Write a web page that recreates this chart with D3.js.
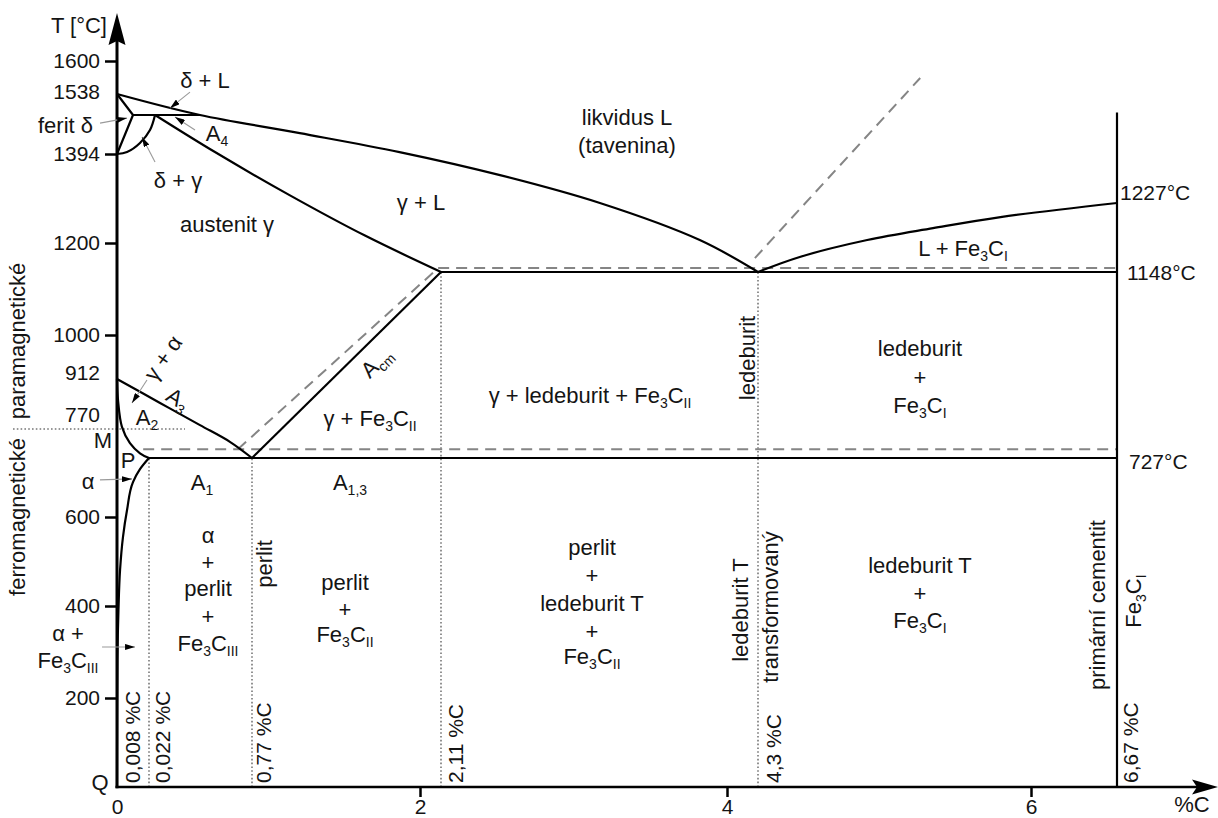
<!DOCTYPE html>
<html><head><meta charset="utf-8">
<script src="https://cdn.jsdelivr.net/npm/d3@7"></script>
<style>
body{margin:0;background:#fff;}
svg text{font-family:"Liberation Sans",Arial,Helvetica,sans-serif;fill:#141414;}
</style></head><body>
<svg id="c" width="1218" height="818"></svg>
<script>
// ---------------- DATA (composition %C, temperature °C) ----------------
const xKnots = [0, 0.022, 0.53, 0.77, 2, 2.11, 4, 4.3, 6, 6.67];
const yKnots = [0, 200, 400, 600, 727, 770, 912, 1000, 1148, 1200, 1227, 1394, 1495, 1538, 1600];

const liquidusABC = [[0,1538],[0.53,1495],[1.12,1448],[1.85,1399],[2.50,1322],[3.16,1227],[3.82,1202],[4.3,1148]];
const liquidusCD  = [[4.3,1148],[4.56,1175],[4.98,1202],[5.39,1210],[5.81,1217.5],[6.67,1227]];
const solidusJE   = [[0.082,1495],[0.599,1399],[1.048,1253],[1.597,1205],[2.11,1148]];
const deltaAHN    = [[0,1538],[0.011,1495],[0,1394]];
const peritecticHB = [[0.011,1495],[0.53,1495]];
const arcNJ       = [[0,1394],[0.0069,1399],[0.0158,1422.5],[0.032,1456],[0.082,1495]];
const a3GS        = [[0,912],[0.132,844],[0.53,781],[0.668,751],[0.77,727]];
const curveGP     = [[0,912],[0.0007,852],[0.0034,776],[0.0089,749],[0.0158,734],[0.022,727]];
const curvePQ     = [[0.022,727],[0.0158,703],[0.011,675],[0.0069,615],[0.0041,555],[0.0021,481],[0.001,391],[0.0003,283],[0.0001,151],[0,0]];
const acmES       = [[2.11,1148],[0.77,727]];
const eutecticECF = [[2.11,1148],[6.67,1148]];
const eutectoidPSK = [[0.022,727],[6.67,727]];
const cementiteLine = [[6.67,0],[6.67,1500]];

const graphiteES        = [[0.705,740],[2.095,1155]];
const graphiteEutectic  = [[2.095,1155],[6.67,1155]];
const graphiteEutectoid = [[0.018,740],[6.67,740]];
const graphiteLiquidus  = [[4.27,1173],[5.31,1568]];

const compositionLines = [[0.022,727],[0.77,727],[2.11,1148],[4.3,1148]];
const curieLine = [[0,770],[0.381,770]];

const yTickValues = [200, 400, 600, 1000, 1200, 1394, 1600];
const yExtraLabels = [1538, 912, 770];
const xTickValues = [0, 2, 4, 6];
const isotherms = [[1227,"1227°C"],[1148,"1148°C"],[727,"727°C"]];
const compLabels = [[0.008,"0,008 %C"],[0.022,"0,022 %C"],[0.77,"0,77 %C"],[2.11,"2,11 %C"],[4.3,"4,3 %C"],[6.67,"6,67 %C"]];
const leaderTargets = [[0.0069,1487],[0.231,1509],[0.281,1490],[0.0172,1438],[0.0103,844],[0.0103,682],[0.0124,311]];

// ---------------- LAYOUT ----------------
const W = 1218, H = 818;
const svg = d3.select("#c");
const x = d3.scaleLinear().domain(xKnots).range([117,149,200,252,420,441,727,758,1031,1117]);
const y = d3.scaleLinear().domain(yKnots).range([787,698,606,517,458,429,379,335,272,243,203,154,115,94,61]);

const yExtraDy = [-2, -6, -14];
const isoOffsets = [[3,-10],[10,1],[12,4]];
const compOffsets = [11,21,19,22,23,21];
const leaderOffsets = [[-27,5],[20,-16],[20,13],[13,25],[15,-23],[-32,1],[-33,0]];

const labels = [
 ["austenit γ",227,224],["γ + L",421,202],["likvidus L",627,117],["(tavenina)",627,145],
 ["L + Fe_{3}C_{I}",963,248],["γ + Fe_{3}C_{II}",370,418],["γ + ledeburit + Fe_{3}C_{II}",590,395],
 ["ledeburit",920,348],["+",920,377],["Fe_{3}C_{I}",920,405],
 ["A_{1}",202,482],["A_{1,3}",350,482],
 ["α",208,535],["+",208,562],["perlit",208,588],["+",208,616],["Fe_{3}C_{III}",208,643],
 ["perlit",345,582],["+",345,609],["Fe_{3}C_{II}",345,634],
 ["perlit",592,547],["+",592,575],["ledeburit T",592,603],["+",592,631],["Fe_{3}C_{II}",592,656],
 ["ledeburit T",920,565],["+",920,593],["Fe_{3}C_{I}",920,620],
 ["α +",68,633],["Fe_{3}C_{III}",68,660],["α",88,481],
 ["M",103,440],["P",128,460],["Q",100,782],["A_{2}",147,417],
 ["δ + L",205,80],["A_{4}",217,133],["δ + γ",178,180]
];
const endLabels = [["ferit δ",93,125],["T [°C]",107,25]];
const vLabels = [ // baseline x, center y
 ["ferromagnetické",25,517],["paramagnetické",25,341],["perlit",272,564],
 ["ledeburit",755,358],["ledeburit T",748,610],["transformovaný",778,607],
 ["primární cementit",1105,605],["Fe_{3}C_{I}",1141,601]
];
const angLabels = [["γ + α",163,358,-55],["A_{3}",178,399,32],["A_{cm}",376,362,-45]];

const FS = 22, FSN = 21, SUB = 14;

function rich(sel, str){
  const parts = str.split(/(_\{[^}]*\})/).filter(s => s.length);
  let inSub = false;
  parts.forEach(p => {
    if (p.startsWith("_{")) {
      sel.append("tspan").attr("font-size", SUB).attr("dy", inSub ? 0 : 5).text(p.slice(2,-1));
      inSub = true;
    } else {
      const t = sel.append("tspan").text(p);
      if (inSub) { t.attr("dy", -5); inSub = false; }
    }
  });
  return sel;
}

const defs = svg.append("defs");
defs.append("marker").attr("id","ah").attr("viewBox","0 0 10 6")
  .attr("refX",10).attr("refY",3).attr("markerWidth",10).attr("markerHeight",6)
  .attr("markerUnits","userSpaceOnUse").attr("orient","auto")
  .append("path").attr("d","M0,0L10,3L0,6Z").attr("fill","#000");

const lineGen = (curve) => d3.line().x(d => x(d[0])).y(d => y(d[1])).curve(curve || d3.curveLinear);

function draw(data, style, curve){
  const p = svg.append("path").attr("d", lineGen(curve)(data)).attr("fill","none")
    .attr("stroke-linejoin","round").attr("stroke-linecap","butt");
  if (style === "solid") p.attr("stroke","#000").attr("stroke-width",2.2);
  if (style === "dashed") p.attr("stroke","#858585").attr("stroke-width",2).attr("stroke-dasharray","11,7");
  if (style === "dotted") p.attr("stroke","#777").attr("stroke-width",1.6).attr("stroke-dasharray","1.6,2.2");
  return p;
}

// dotted lines
compositionLines.forEach(d => draw([[d[0],0],d], "dotted"));
svg.append("line").attr("x1", x(0) - 104).attr("x2", x(curieLine[1][0]))
  .attr("y1", y(770)).attr("y2", y(770))
  .attr("stroke","#777").attr("stroke-width",1.6).attr("stroke-dasharray","1.6,2.2");

// dashed (graphite system)
draw(graphiteES, "dashed");
draw(graphiteEutectic, "dashed");
draw(graphiteEutectoid, "dashed");
draw(graphiteLiquidus, "dashed");

// solid phase lines
draw(liquidusABC, "solid", d3.curveCatmullRom);
draw(liquidusCD, "solid", d3.curveCatmullRom);
draw(solidusJE, "solid", d3.curveCatmullRom);
draw(deltaAHN, "solid");
draw(peritecticHB, "solid");
draw(arcNJ, "solid", d3.curveCatmullRom);
draw(a3GS, "solid", d3.curveCatmullRom);
draw(curveGP, "solid", d3.curveCatmullRom);
draw(curvePQ, "solid", d3.curveMonotoneY);
draw(acmES, "solid");
draw(eutecticECF, "solid");
draw(eutectoidPSK, "solid");
draw(cementiteLine, "solid");

// axes
const yAxis = svg.append("g").attr("transform",`translate(${x(0)},0)`)
  .call(d3.axisLeft(y).tickValues(yTickValues).tickSize(12).tickPadding(5).tickFormat(d3.format("d")));
yAxis.select(".domain").remove();
yAxis.selectAll(".tick line").attr("stroke","#000").attr("stroke-width",2.5);
yAxis.selectAll(".tick text").attr("font-size",FSN).attr("fill","#141414")
  .attr("font-family","'Liberation Sans',Arial,sans-serif");

yExtraLabels.forEach((v,i) => {
  svg.append("text").attr("x", x(0) - 17).attr("y", y(v) + yExtraDy[i]).attr("dy","0.35em")
    .attr("text-anchor","end").attr("font-size",FSN).text(v);
});

const xAxis = svg.append("g").attr("transform",`translate(0,${y(0)})`)
  .call(d3.axisBottom(x).tickValues(xTickValues).tickSize(10).tickPadding(2).tickFormat(d3.format("d")));
xAxis.select(".domain").remove();
xAxis.selectAll(".tick line").attr("stroke","#000").attr("stroke-width",2.5)
  .filter(d => d === 0).remove();
xAxis.selectAll(".tick text").attr("font-size",FSN).attr("fill","#141414")
  .attr("font-family","'Liberation Sans',Arial,sans-serif");

// axis lines + arrows
svg.append("line").attr("x1",x(0)).attr("x2",x(0)).attr("y1",y(0)+1.2).attr("y2",y(1600)-20)
  .attr("stroke","#000").attr("stroke-width",3);
svg.append("path").attr("d",`M${x(0)},${y(1600)-48}L${x(0)+8.5},${y(1600)-16}L${x(0)},${y(1600)-20}L${x(0)-8.5},${y(1600)-16}Z`).attr("fill","#000");
svg.append("line").attr("x1",x(0)-1.5).attr("x2",W-20).attr("y1",y(0)).attr("y2",y(0))
  .attr("stroke","#000").attr("stroke-width",2.5);
svg.append("path").attr("d",`M${W},${y(0)}L${W-26},${y(0)-7.5}L${W-21},${y(0)}L${W-26},${y(0)+7.5}Z`).attr("fill","#000");
svg.append("text").attr("x",1192).attr("y",812).attr("text-anchor","middle").attr("font-size",FS).text("%C");

// isotherm labels on right
isotherms.forEach((d,i) => {
  svg.append("text").attr("x", x(6.67) + isoOffsets[i][0]).attr("y", y(d[0]) + isoOffsets[i][1])
    .attr("dy","0.35em").attr("font-size",FSN).text(d[1]);
});

// composition labels at bottom
compLabels.forEach((d,i) => {
  svg.append("text").attr("transform",`translate(${x(d[0]) + compOffsets[i]},${y(0)-4}) rotate(-90)`)
    .attr("text-anchor","start").attr("font-size",FSN).text(d[1]);
});

// leaders
leaderTargets.forEach((d,i) => {
  const tx = x(d[0]), ty = y(d[1]);
  svg.append("line").attr("x1", tx + leaderOffsets[i][0]).attr("y1", ty + leaderOffsets[i][1])
    .attr("x2", tx).attr("y2", ty).attr("stroke","#9a9a9a").attr("stroke-width",1.1)
    .attr("marker-end","url(#ah)");
});

// labels
labels.forEach(d => {
  rich(svg.append("text").attr("x",d[1]).attr("y",d[2] + 0.35*FS).attr("text-anchor","middle").attr("font-size",FS), d[0]);
});
endLabels.forEach(d => {
  rich(svg.append("text").attr("x",d[1]).attr("y",d[2] + 0.35*FS).attr("text-anchor","end").attr("font-size",FS), d[0]);
});
vLabels.forEach(d => {
  rich(svg.append("text").attr("transform",`translate(${d[1]},${d[2]}) rotate(-90)`)
    .attr("text-anchor","middle").attr("font-size",FS), d[0]);
});
angLabels.forEach(d => {
  rich(svg.append("text").attr("transform",`translate(${d[1]},${d[2]}) rotate(${d[3]})`)
    .attr("y",0.35*FS).attr("text-anchor","middle").attr("font-size",FS), d[0]);
});
</script>
</body></html>
